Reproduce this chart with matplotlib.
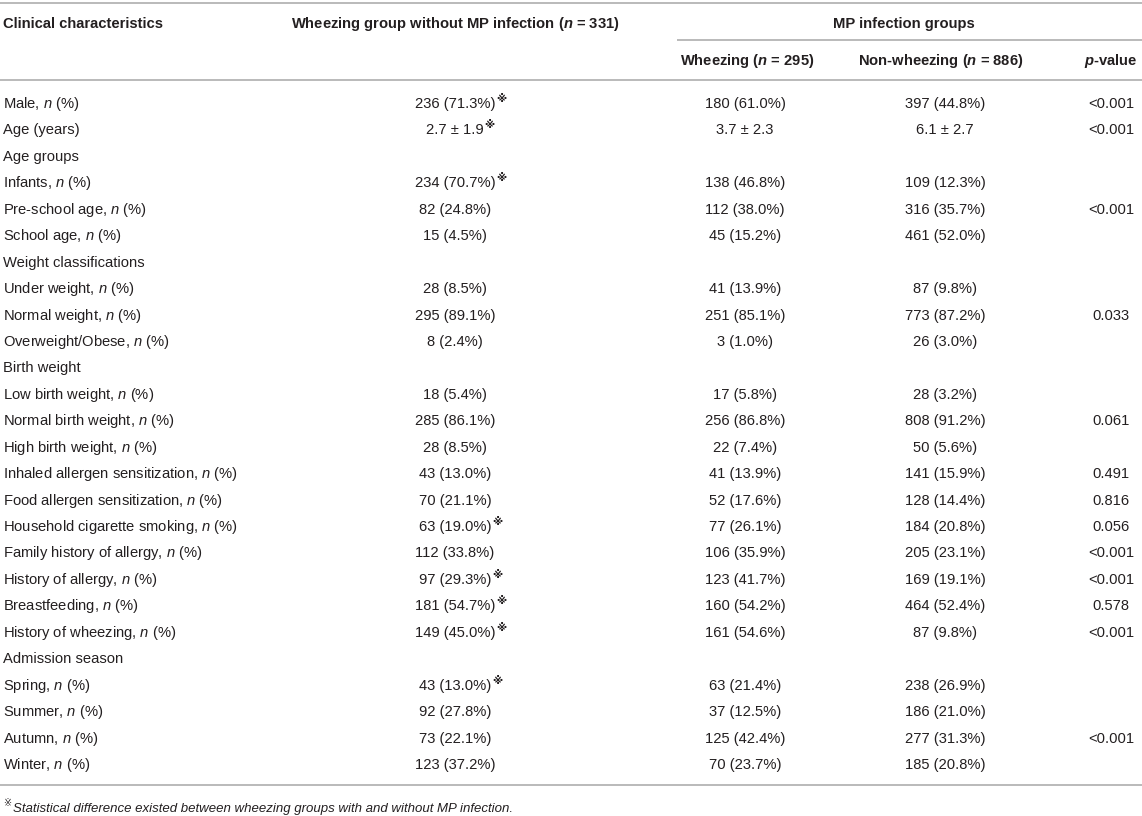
import matplotlib
matplotlib.use("Agg")
import matplotlib.pyplot as plt

plt.rcParams['font.family'] = ['Liberation Sans', 'DejaVu Sans']
plt.rcParams['mathtext.fontset'] = 'custom'
plt.rcParams['mathtext.rm'] = 'Liberation Sans'
plt.rcParams['mathtext.it'] = 'Liberation Sans:italic'
plt.rcParams['mathtext.bf'] = 'Liberation Sans:bold'
plt.rcParams['mathtext.bfit'] = 'Liberation Sans:italic:bold'

# ---- table data ----
characteristics = [
    "Male, n (%)", "Age (years)", "Age groups", "Infants, n (%)",
    "Pre-school age, n (%)", "School age, n (%)", "Weight classifications",
    "Under weight, n (%)", "Normal weight, n (%)", "Overweight/Obese, n (%)",
    "Birth weight", "Low birth weight, n (%)", "Normal birth weight, n (%)",
    "High birth weight, n (%)", "Inhaled allergen sensitization, n (%)",
    "Food allergen sensitization, n (%)", "Household cigarette smoking, n (%)",
    "Family history of allergy, n (%)", "History of allergy, n (%)",
    "Breastfeeding, n (%)", "History of wheezing, n (%)", "Admission season",
    "Spring, n (%)", "Summer, n (%)", "Autumn, n (%)", "Winter, n (%)",
]
no_mp_wheezing = [
    "236 (71.3%)", "2.7 ± 1.9", "", "234 (70.7%)", "82 (24.8%)", "15 (4.5%)", "",
    "28 (8.5%)", "295 (89.1%)", "8 (2.4%)", "", "18 (5.4%)", "285 (86.1%)",
    "28 (8.5%)", "43 (13.0%)", "70 (21.1%)", "63 (19.0%)", "112 (33.8%)",
    "97 (29.3%)", "181 (54.7%)", "149 (45.0%)", "", "43 (13.0%)", "92 (27.8%)",
    "73 (22.1%)", "123 (37.2%)",
]
# rows where the no-MP group differs significantly (reference mark)
marked = [1, 1, 0, 1, 0, 0, 0, 0, 0, 0, 0, 0, 0, 0, 0, 0, 1, 0, 1, 1, 1, 0, 1, 0, 0, 0]
mp_wheezing = [
    "180 (61.0%)", "3.7 ± 2.3", "", "138 (46.8%)", "112 (38.0%)", "45 (15.2%)", "",
    "41 (13.9%)", "251 (85.1%)", "3 (1.0%)", "", "17 (5.8%)", "256 (86.8%)",
    "22 (7.4%)", "41 (13.9%)", "52 (17.6%)", "77 (26.1%)", "106 (35.9%)",
    "123 (41.7%)", "160 (54.2%)", "161 (54.6%)", "", "63 (21.4%)", "37 (12.5%)",
    "125 (42.4%)", "70 (23.7%)",
]
mp_non_wheezing = [
    "397 (44.8%)", "6.1 ± 2.7", "", "109 (12.3%)", "316 (35.7%)", "461 (52.0%)", "",
    "87 (9.8%)", "773 (87.2%)", "26 (3.0%)", "", "28 (3.2%)", "808 (91.2%)",
    "50 (5.6%)", "141 (15.9%)", "128 (14.4%)", "184 (20.8%)", "205 (23.1%)",
    "169 (19.1%)", "464 (52.4%)", "87 (9.8%)", "", "238 (26.9%)", "186 (21.0%)",
    "277 (31.3%)", "185 (20.8%)",
]
p_values = [
    "<0.001", "<0.001", "", "", "<0.001", "", "", "", "0.033", "", "", "",
    "0.061", "", "0.491", "0.816", "0.056", "<0.001", "<0.001", "0.578",
    "<0.001", "", "", "", "<0.001", "",
]
footnote = "Statistical difference existed between wheezing groups with and without MP infection."

TXT = '#231f20'
LINE = '#b4b4b4'
FS = 10.6

fig = plt.figure(figsize=(11.42, 8.16), dpi=100)
ax = fig.add_axes([0, 0, 1, 1])
ax.set_xlim(0, 1142)
ax.set_ylim(816, 0)
ax.axis('off')

# rules
for y, x0 in [(3, 0), (40, 677), (80, 0), (785, 0)]:
    ax.plot([x0, 1142], [y, y], color=LINE, lw=1.3, solid_capstyle='butt')

# header
hkw = dict(fontsize=FS, fontweight='bold', color=TXT, va='baseline')
ax.text(3, 28, "Clinical characteristics", ha='left', **hkw)
ax.text(455, 28, r"Wheezing group without MP infection ($\mathbfit{n}$ = 331)", ha='center', **hkw)
ax.text(904, 28, "MP infection groups", ha='center', **hkw)
ax.text(747, 65, r"Wheezing ($\mathbfit{n}$ = 295)", ha='center', **hkw)
ax.text(941, 65, r"Non-wheezing ($\mathbfit{n}$ = 886)", ha='center', **hkw)
ax.text(1111, 65, r"$\mathbfit{p}$-value", ha='center', **hkw)

# body
col_x = [455, 745, 945, 1111]
first_y, pitch = 108, 26.44
bkw = dict(fontsize=FS, color=TXT, va='baseline')
for i, label in enumerate(characteristics):
    y = first_y + i * pitch
    ax.text(3, y, label.replace(", n (%)", r", $\mathit{n}$ (%)"), ha='left', **bkw)
    for cx, col in zip(col_x, [no_mp_wheezing, mp_wheezing, mp_non_wheezing, p_values]):
        if col[i]:
            t = ax.text(cx, y, col[i], ha='center', **bkw)
            if col is no_mp_wheezing and marked[i]:
                ax.annotate("※", xy=(1, 0.5), xycoords=t, xytext=(0.5, 0),
                            textcoords='offset points', ha='left', va='bottom',
                            fontsize=7.5, fontweight='bold', color=TXT,
                            family=['DejaVu Sans'])

# footnote
fn = ax.annotate("※", xy=(3, 808), xycoords='data', ha='left', va='bottom',
                 fontsize=7, color=TXT, family=['DejaVu Sans'])
ax.annotate(footnote, xy=(1, 0), xycoords=fn, xytext=(1, -5), textcoords='offset points',
            ha='left', va='bottom', fontsize=9.5, style='italic', color=TXT)

fig.savefig("out.png", dpi=100)
